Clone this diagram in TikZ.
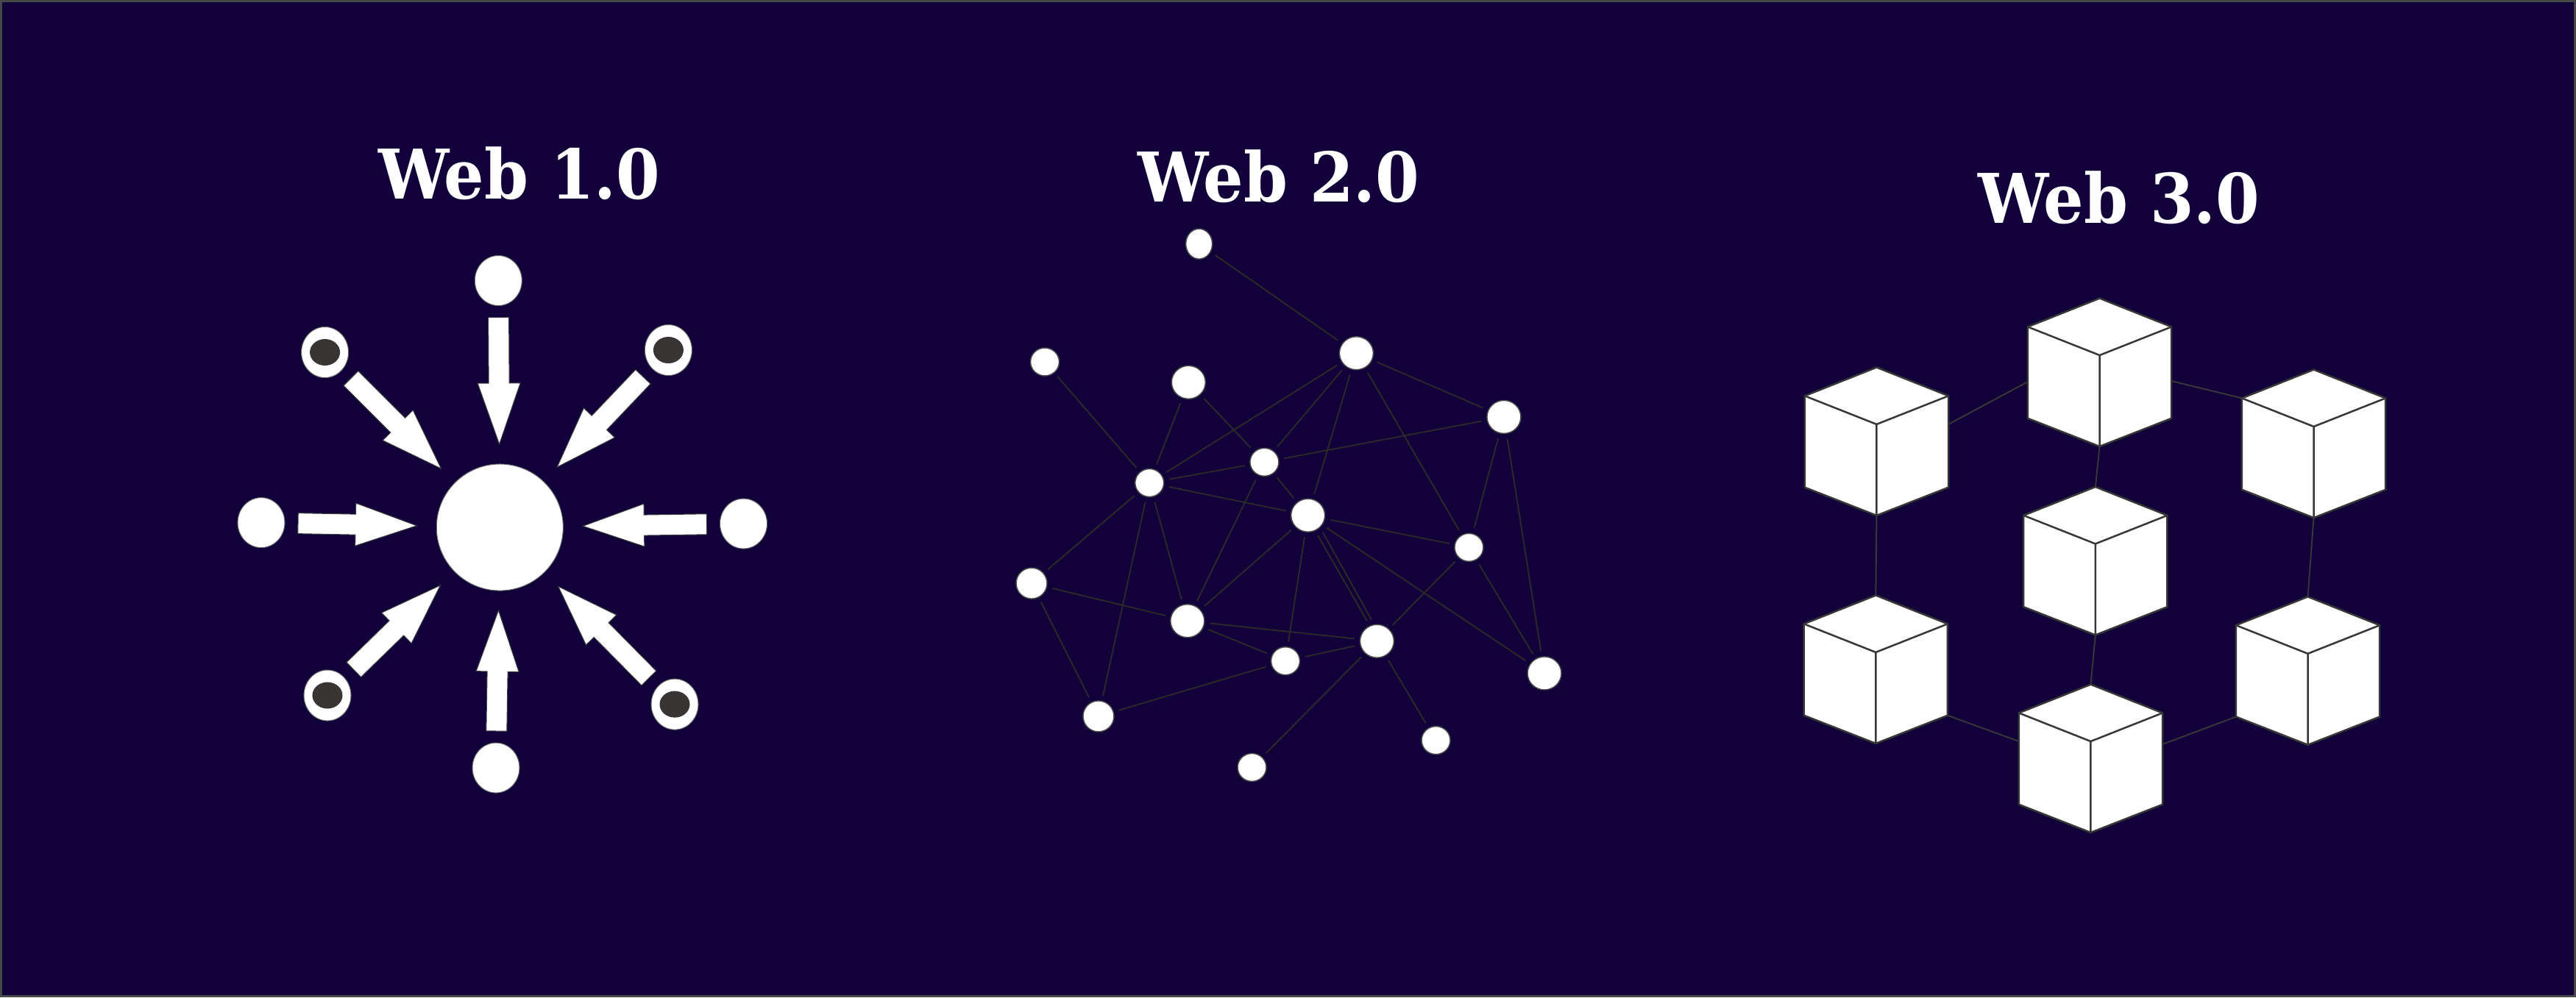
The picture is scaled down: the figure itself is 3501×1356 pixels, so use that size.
\documentclass[tikz,border=0pt]{standalone}
\usepackage{fontspec}
\usepackage{tikz}
\usetikzlibrary{calc, shapes.geometric}

\newfontfamily\titlefont{DejaVu Serif}[FakeStretch=0.92]

\definecolor{night}{RGB}{17,0,58}
\definecolor{frame}{RGB}{72,72,72}
\definecolor{wire}{RGB}{42,40,42}
\definecolor{edgegray}{RGB}{55,55,55}
\definecolor{core}{RGB}{56,53,52}

% block arrow from a client towards the hub
\newcommand{\feedarrow}[1]{%
	\coordinate (fs) at ($(#1)!.5cm!(hub)$);
	\coordinate (ft) at ($(hub)!1.13cm!(#1)$);
	\coordinate (fh) at ($(ft)!.83cm!(fs)$);
	\filldraw[feed] ($(fs)!.14cm!90:(ft)$) -- ($(fh)!.14cm!90:(ft)$) -- ($(fh)!.29cm!90:(ft)$) -- (ft)
		-- ($(fh)!.29cm!-90:(ft)$) -- ($(fh)!.14cm!-90:(ft)$) -- ($(fs)!.14cm!-90:(ft)$) -- cycle;
}

\tikzset{
	block/.pic={
		\filldraw[edgegray, fill=white, line width=.025cm, line join=round]
			(-97.6,-38.6) -- (0,-77.4) -- (97.6,-38.6) -- (97.6,85.8) -- (0,124) -- (-97.6,85.8) -- cycle;
		\draw[edgegray, line width=.025cm, line join=round] (-97.6,-38.6) -- (0,0) -- (97.6,-38.6) (0,0) -- (0,124);
		\coordinate (-n) at (0,-77.4);
		\coordinate (-s) at (0,124);
		\coordinate (-w) at (-97.6,0);
		\coordinate (-e) at (97.6,0);
		\coordinate (-nw) at (-97.6,-38.6);
		\coordinate (-sw) at (-97.6,85.8);
		\coordinate (-se) at (97.6,85.8);
	}
}

\begin{document}
\begin{tikzpicture}[x=0.01cm, y=-0.01cm,
		Title/.style={text=white, font=\titlefont\bfseries\fontsize{26.5}{30}\selectfont, anchor=base, inner sep=0},
		Hub/.style={circle, fill=white, draw=black!60, line width=.01cm, minimum size=1.72cm, inner sep=0},
		Client/.style={ellipse, fill=white, draw=black!60, line width=.01cm, minimum width=.64cm, minimum height=.68cm, inner sep=0},
		RingClient/.style={Client, minimum height=.69cm,
			path picture={\fill[core] (path picture bounding box.center) ellipse [x radius=.205cm, y radius=.18cm];}},
		feed/.style={fill=white, draw=black!75, line width=.01cm},
		Peer/.style={ellipse, fill=white, draw=black!70, line width=.015cm, minimum width=.39cm, minimum height=.38cm, inner sep=0},
		MidPeer/.style={Peer, minimum width=.42cm, minimum height=.42cm},
		BigPeer/.style={Peer, minimum width=.46cm, minimum height=.45cm},
		link/.style={wire, line width=.02cm, shorten <=.07cm, shorten >=.07cm},
		chain/.style={edgegray, line width=.02cm}]

	\useasboundingbox (0,0) rectangle (3501,1356);
	\fill[night] (0,0) rectangle (3501,1356);
	\draw[frame, line width=.03cm] (1.5,1.5) rectangle (3499.5,1354.5);

	\node[Title] (title1) at (706,270) {Web 1.0};
	\node[Title] (title2) at (1738,274) {Web 2.0};
	\node[Title] (title3) at (2880,303) {Web 3.0};

	% Web 1.0
	\node[Hub] (hub) at (679.3,717) {};
	\node[Client] (top) at (677.3,381.5) {};
	\node[Client] (bot) at (674,1044) {};
	\node[Client] (lft) at (355,710.6) {};
	\node[Client] (rgt) at (1010.5,712) {};
	\node[RingClient] (ul) at (441.6,479) {};
	\node[RingClient] (ur) at (908.4,476) {};
	\node[RingClient] (ll) at (445,945.5) {};
	\node[RingClient] (lr) at (917,957.6) {};

	\feedarrow{top}
	\feedarrow{bot}
	\feedarrow{lft}
	\feedarrow{rgt}
	\feedarrow{ul}
	\feedarrow{ur}
	\feedarrow{ll}
	\feedarrow{lr}

	% Web 2.0
	\node[Peer, minimum width=.36cm, minimum height=.41cm] (pa) at (1629.6,331.6) {};
	\node[BigPeer] (pb) at (1843.4,480.2) {};
	\node[Peer] (pc) at (1420,492) {};
	\node[BigPeer] (pd) at (1615.3,519.8) {};
	\node[BigPeer] (pe) at (2043.9,566.9) {};
	\node[Peer] (pf) at (1718.4,628.3) {};
	\node[Peer] (pg) at (1562.2,656.5) {};
	\node[BigPeer] (ph) at (1777.6,700.7) {};
	\node[Peer] (pi) at (1996.4,744.3) {};
	\node[MidPeer] (pj) at (1402,793.1) {};
	\node[BigPeer] (pk) at (1613.8,844.2) {};
	\node[BigPeer] (pl) at (1871.4,871.7) {};
	\node[Peer] (pm) at (1747,898.7) {};
	\node[BigPeer] (pn) at (2099,915.4) {};
	\node[MidPeer] (po) at (1492.9,973.9) {};
	\node[Peer] (pp) at (1951.5,1006.6) {};
	\node[Peer] (pq) at (1701.5,1043.4) {};

	\draw[link] (pa) -- (pb);
	\draw[link] (pb) -- (pg);
	\draw[link] (pb) -- (pf);
	\draw[link] (pb) -- (ph);
	\draw[link] (pb) -- (pe);
	\draw[link] (pb) -- (pi);
	\draw[link] (pc) -- (pg);
	\draw[link] (pd) -- (pg);
	\draw[link] (pd) -- (pf);
	\draw[link] (pe) -- (pf);
	\draw[link] (pe) -- (pi);
	\draw[link] (pe) -- (pn);
	\draw[link] (pg) -- (pf);
	\draw[link] (pg) -- (ph);
	\draw[link] (pg) -- (pj);
	\draw[link] (pg) -- (pk);
	\draw[link] (pg) -- (po);
	\draw[link] (pf) -- (ph);
	\draw[link] (pf) -- (pk);
	\draw[link] (ph) -- (pi);
	\draw[link] (ph) -- (pk);
	\draw[link] (ph) -- (pn);
	\draw[link] (ph.-65) -- (pl.115);
	\draw[link] (ph.-45) -- (pl.100);
	\draw[link] (ph) -- (pm);
	\draw[link] (pi) -- (pl);
	\draw[link] (pi) -- (pn);
	\draw[link] (pj) -- (pk);
	\draw[link] (pj) -- (po);
	\draw[link] (pk) -- (pl);
	\draw[link] (pk) -- (pm);
	\draw[link] (pm) -- (pl);
	\draw[link] (pm) -- (po);
	\draw[link] (pl) -- (pq);
	\draw[link] (pl) -- (pp);

	% Web 3.0
	\coordinate (c1) at (2853.5,483);
	\coordinate (c2) at (2550.4,576.9);
	\coordinate (c3) at (3144.5,580);
	\coordinate (c4) at (2847.8,739.4);
	\coordinate (c5) at (2549.3,886.9);
	\coordinate (c6) at (3136.5,888.75);
	\coordinate (c7) at (2841.4,1008);

	\draw[chain] ($(c2)+(97.6,0)$) -- ($(c1)+(-97.6,36)$);
	\draw[chain] ($(c1)+(97.6,35)$) -- ($(c3)+(-97.6,-38.6)$);
	\draw[chain] ($(c1)+(0,124)$) -- ($(c4)+(0,-77.4)$);
	\draw[chain] ($(c2)+(0,124)$) -- ($(c5)+(0,-77.4)$);
	\draw[chain] ($(c3)+(0,124)$) -- ($(c6)+(0,-77.4)$);
	\draw[chain] ($(c4)+(0,124)$) -- ($(c7)+(0,-77.4)$);
	\draw[chain] ($(c5)+(97.6,85.8)$) -- ($(c7)+(-97.6,0)$);
	\draw[chain] ($(c6)+(-97.6,85.8)$) -- ($(c7)+(97.6,4)$);

	\pic (b1) at (c1) {block};
	\pic (b2) at (c2) {block};
	\pic (b3) at (c3) {block};
	\pic (b4) at (c4) {block};
	\pic (b5) at (c5) {block};
	\pic (b6) at (c6) {block};
	\pic (b7) at (c7) {block};
\end{tikzpicture}
\end{document}
